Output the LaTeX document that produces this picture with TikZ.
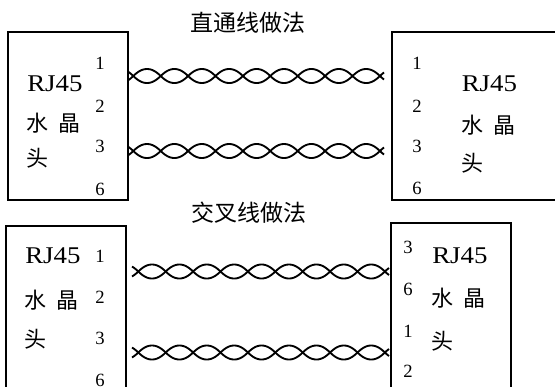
\documentclass[tikz,border=0pt]{standalone}
\usepackage{fontspec}
\setmainfont{Liberation Serif}
\newfontfamily\cjk{Noto Sans CJK SC}
\newcommand\twpair[4]{%
  \draw[wire] plot[domain=#1:#2, samples=300, smooth] (\x, {#3 + 7*sin((\x-#4)*6.5693)*(1.2-0.2*abs(sin((\x-#4)*6.5693)))});
  \draw[wire] plot[domain=#1:#2, samples=300, smooth] (\x, {#3 - 7*sin((\x-#4)*6.5693)*(1.2-0.2*abs(sin((\x-#4)*6.5693)))});
}
\begin{document}
\begin{tikzpicture}[x=0.75pt,y=-0.75pt,
  box/.style={draw, line width=1.3pt, rectangle, inner sep=0pt},
  pin/.style={font=\fontsize{14}{14}\selectfont, inner sep=0pt},
  rj/.style={font=\fontsize{18}{18}\selectfont, inner sep=0pt, anchor=base west},
  zh/.style={font=\cjk\fontsize{16.5}{16.5}\selectfont, inner sep=0pt, anchor=west},
  title/.style={font=\cjk\fontsize{17.25}{17.25}\selectfont, inner sep=0pt},
  wire/.style={line width=1.4pt}]
\useasboundingbox (0,0) rectangle (555,386);
\fill[white] (0,0) rectangle (555,386);
\clip (0,0) rectangle (555,386);

% titles
\node[title] (t1) at (247.5,23) {直通线做法};
\node[title] (t2) at (248.5,213) {交叉线做法};

% boxes
\node[box, minimum width=90pt, minimum height=126pt] (TL) at (68,116) {};
\node[box, minimum width=141pt, minimum height=126pt] (TR) at (486,116) {};
\node[box, minimum width=90pt, minimum height=145.5pt] (BL) at (66,323) {};
\node[box, minimum width=90pt, minimum height=147.75pt] (BR) at (451,321.5) {};

% top-left texts
\node[rj] (tlr) at (27,91.5) {\scalebox{1.12}[1]{RJ45}};
\node[zh] (tlz) at (26,123) {水\hspace{0.45em}晶};
\node[zh] (tlt) at (26,158) {头};
\node[pin] (tl1) at (100,63) {1};
\node[pin] (tl2) at (100,106) {2};
\node[pin] (tl3) at (100,146) {3};
\node[pin] (tl6) at (100,189) {6};

% top-right texts
\node[rj] (trr) at (461.5,91.5) {\scalebox{1.12}[1]{RJ45}};
\node[zh] (trz) at (461,125) {水\hspace{0.45em}晶};
\node[zh] (trt) at (461,163) {头};
\node[pin] (tr1) at (417,63) {1};
\node[pin] (tr2) at (417,106) {2};
\node[pin] (tr3) at (417,146) {3};
\node[pin] (tr6) at (417,188) {6};

% bottom-left texts
\node[rj] (blr) at (25,263) {\scalebox{1.12}[1]{RJ45}};
\node[zh] (blz) at (24,300) {水\hspace{0.45em}晶};
\node[zh] (blt) at (24,339) {头};
\node[pin] (bl1) at (100,256) {1};
\node[pin] (bl2) at (100,297) {2};
\node[pin] (bl3) at (100,338) {3};
\node[pin] (bl6) at (100,380) {6};

% bottom-right texts
\node[rj] (brr) at (432,263) {\scalebox{1.12}[1]{RJ45}};
\node[zh] (brz) at (431,298) {水\hspace{0.45em}晶};
\node[zh] (brt) at (431,341) {头};
\node[pin] (br3) at (408,247) {3};
\node[pin] (br6) at (408,289) {6};
\node[pin] (br1) at (408,331) {1};
\node[pin] (br2) at (408,371) {2};

% twisted pairs
\twpair{128}{384}{76}{133.3}
\twpair{128}{384}{151}{133.3}
\twpair{132}{389}{271.5}{138.3}
\twpair{132}{389}{352.5}{138.3}
\end{tikzpicture}
\end{document}
